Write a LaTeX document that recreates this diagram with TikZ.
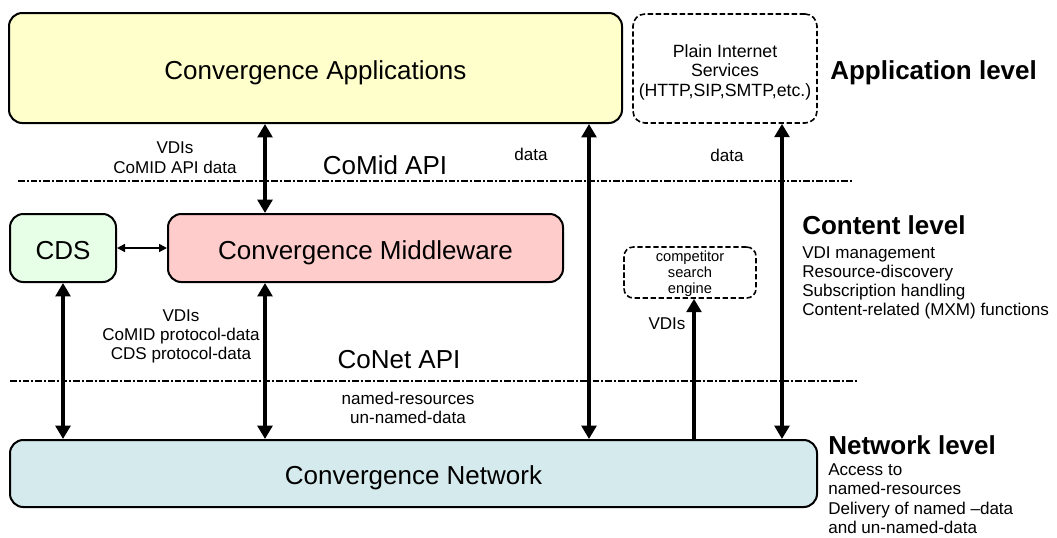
\documentclass[tikz,border=0pt]{standalone}
\usepackage{fontspec}
\setmainfont{Liberation Sans}
\usetikzlibrary{arrows.meta}
\definecolor{appY}{RGB}{255,255,204}
\definecolor{cdsG}{RGB}{230,255,230}
\definecolor{mwR}{RGB}{255,204,204}
\definecolor{netB}{RGB}{213,234,236}
\begin{document}
\begin{tikzpicture}[x=0.75pt,y=-0.75pt,
  box/.style={draw, line width=1.5pt, rounded corners=10pt, inner sep=0pt, align=center},
  dbox/.style={draw, line width=1.2pt, dash pattern=on 4pt off 2pt, rounded corners=9pt, inner sep=0pt, align=center},
  big/.style={font=\fontsize{19.5}{23}\selectfont, text height=16.5pt, text depth=0pt},
  lbl/.style={font=\fontsize{12.8}{15}\selectfont, inner sep=0pt, anchor=base},
  sidetxt/.style={font=\fontsize{12.8}{15}\selectfont, inner sep=0pt, anchor=base west},
  head/.style={font=\bfseries\fontsize{19.5}{23}\selectfont, inner sep=0pt, anchor=base west},
  bigl/.style={font=\fontsize{19.5}{23}\selectfont, inner sep=0pt, anchor=base},
  api/.style={line width=1.1pt, dash pattern=on 5pt off 1.5pt on 1.5pt off 1.5pt},
  fat/.style={line width=3pt, {Triangle[length=10pt,width=11pt]}-{Triangle[length=10pt,width=11pt]}},
  fatone/.style={line width=3pt, -{Triangle[length=10pt,width=11pt]}},
  thinarr/.style={line width=1.2pt, {Triangle[length=6pt,width=6pt]}-{Triangle[length=6pt,width=6pt]}}
]
\useasboundingbox (0,0) rectangle (1057,537);

% dash-dot API lines
\coordinate (L1a) at (18,181);
\coordinate (L1b) at (852,181);
\coordinate (L2a) at (10,381);
\coordinate (L2b) at (858,381);
\draw[api] (L1a) -- (L1b);
\draw[api] (L2a) -- (L2b);

% boxes
\node[box, fill=appY, big, minimum width=459.75pt, minimum height=82.5pt] (app) at (315.5,68) {Convergence Applications};
\node[dbox, font=\fontsize{13.3}{14.6}\selectfont, minimum width=138pt, minimum height=81.75pt] (pis) at (725,68.5) {\rule{0pt}{15pt}Plain Internet\\Services\\(HTTP,SIP,SMTP,etc.)};
\node[box, fill=cdsG, big, minimum width=79.5pt, minimum height=51pt] (cds) at (63,248) {CDS};
\node[box, fill=mwR, big, minimum width=296.25pt, minimum height=51pt] (mw) at (365.5,248) {Convergence Middleware};
\node[dbox, rounded corners=7pt, font=\fontsize{11}{12}\selectfont, minimum width=99pt, minimum height=38.25pt] (cse) at (690,272.5) {\rule{0pt}{9.5pt}competitor\\search\\engine};
\node[box, fill=netB, big, minimum width=605.25pt, minimum height=50.25pt] (net) at (413.5,473.5) {Convergence Network};

% arrow x positions
\coordinate (X1) at (265,0);
\coordinate (X2) at (589,0);
\coordinate (X3) at (782,0);
\coordinate (X4) at (63,0);
\coordinate (X6) at (694,0);

\draw[fat] (app.south -| X1) -- (mw.north -| X1);
\draw[fat] (app.south -| X2) -- (net.north -| X2);
\draw[fat] (pis.south -| X3) -- (net.north -| X3);
\draw[fat] (cds.south -| X4) -- (net.north -| X4);
\draw[fat] (mw.south -| X1) -- (net.north -| X1);
\draw[fatone] (net.north -| X6) -- (cse.south -| X6);
\draw[thinarr] (cds.east) -- (mw.west);

% labels
\node[lbl] (lA1) at (175,153) {VDIs};
\node[lbl] (lA2) at (175,173) {CoMID API data};
\node[bigl] (comid) at (385,174.5) {CoMid API};
\node[lbl] (d1) at (531,160) {data};
\node[lbl] (d2) at (727,161) {data};
\node[lbl] (lB1) at (181,321) {VDIs};
\node[lbl] (lB2) at (181,340.5) {CoMID protocol-data};
\node[lbl] (lB3) at (181,359) {CDS protocol-data};
\node[bigl] (conet) at (399,368.5) {CoNet API};
\node[lbl] (lC1) at (408,404) {named-resources};
\node[lbl] (lC2) at (408,423) {un-named-data};
\node[lbl] (v3) at (667,329) {VDIs};

% side texts
\node[head] (hApp) at (830,79.5) {Application level};
\node[head] (hCon) at (802,234.5) {Content level};
\node[sidetxt] (c1) at (802,258.5) {VDI management};
\node[sidetxt] (c2) at (802,277.5) {Resource-discovery};
\node[sidetxt] (c3) at (802,296.5) {Subscription handling};
\node[sidetxt] (c4) at (802,315.5) {Content-related (MXM) functions};
\node[head] (hNet) at (828,454.5) {Network level};
\node[sidetxt] (n1) at (828,475) {Access to};
\node[sidetxt] (n2) at (828,494.5) {named-resources};
\node[sidetxt] (n3) at (828,514) {Delivery of named –data};
\node[sidetxt] (n4) at (828,533) {and un-named-data};
\end{tikzpicture}
\end{document}
